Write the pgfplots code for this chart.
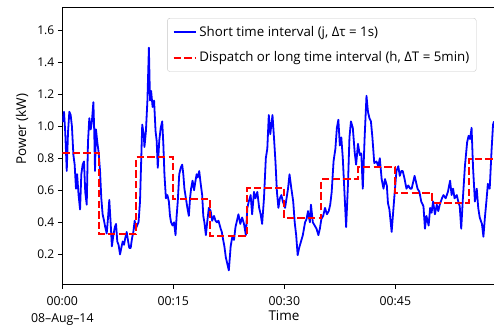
\documentclass[border=0pt]{standalone}
\usepackage{pgfplots}
\pgfplotsset{compat=1.18}
\usepackage{fontspec}
\setmainfont{Open Sans}
\begin{document}
\begin{tikzpicture}
\useasboundingbox (-62.3pt,-42pt) rectangle (431.7pt,284pt);
\begin{axis}[
  scale only axis,
  width=431.7pt, height=277pt,
  xmin=0, xmax=58.33,
  ymin=0.015, ymax=1.744,
  axis x line=box, axis y line=left,
  y axis line style={-},
  axis line style={black, line width=0.8pt},
  xtick pos=left, ytick pos=left,
  tick align=outside,
  major tick length=4.5pt,
  tick style={black, line width=0.8pt},
  xtick={0,15,30,45},
  xticklabels={{00:00\\08–Aug–14},00:15,00:30,00:45},
  xticklabel style={align=center, font=\fontsize{12.3}{17.5}\selectfont, yshift=-4.5pt},
  ytick={0.2,0.4,0.6,0.8,1.0,1.2,1.4,1.6},
  yticklabel style={font=\fontsize{12}{14}\selectfont, /pgf/number format/fixed, /pgf/number format/precision=1, /pgf/number format/fixed zerofill},
  /pgf/number format/assume math mode=true,
  xlabel={Time},
  ylabel={Power (kW)},
  xlabel style={font=\fontsize{13.5}{16}\selectfont, at={(axis description cs:0.5136,-0.1155)}, anchor=center},
  ylabel style={font=\fontsize{13.5}{16}\selectfont, at={(axis description cs:-0.0934,0.56)}, anchor=center},
  legend style={at={(axis description cs:0.243,0.960)}, anchor=north west, draw=black!22, rounded corners=2.5pt, font=\fontsize{13.3}{15}\selectfont, row sep=10pt, inner xsep=5pt, inner ysep=6pt},
  legend cell align=left,
  legend image code/.code={\draw[#1] (0cm,0cm) -- (0.8cm,0cm);},
]
\addplot[blue, line width=1.8pt, line join=round, legend image post style={line width=2.2pt}] coordinates {
(0.00,1.03) (0.05,1.03) (0.23,1.09) (0.40,0.96) (0.60,0.72) (0.77,0.96) (0.95,1.09) (1.13,1.07) (1.30,1.00) (1.50,0.82)
(1.67,0.76) (1.85,0.61) (2.00,0.70) (2.20,0.57) (2.40,0.48) (2.57,0.70) (2.75,0.76) (2.93,0.78) (3.10,0.59) (3.30,0.51)
(3.47,0.90) (3.65,1.05) (3.84,0.98) (4.00,1.03) (4.20,1.15) (4.32,0.96) (4.42,0.72) (4.55,0.98) (4.73,0.90) (4.90,0.84)
(5.10,0.72) (5.27,0.55) (5.45,0.45) (5.64,0.41) (5.80,0.37) (6.00,0.33) (6.18,0.43) (6.35,0.54) (6.54,0.39) (6.70,0.25)
(6.90,0.32) (7.10,0.37) (7.26,0.39) (7.43,0.28) (7.60,0.26) (7.80,0.20) (7.97,0.24) (8.16,0.28) (8.34,0.26) (8.50,0.30)
(8.70,0.34) (8.90,0.28) (9.05,0.24) (9.24,0.24) (9.42,0.30) (9.60,0.34) (9.78,0.41) (9.95,0.36) (10.10,0.38) (10.30,0.40)
(10.50,0.53) (10.65,0.77) (10.80,1.01) (11.00,0.95) (11.10,0.87) (11.30,0.97) (11.50,1.16) (11.70,1.49) (11.85,1.16) (12.00,1.22)
(12.20,1.12) (12.40,1.16) (12.60,0.97) (12.75,0.91) (12.90,0.74) (13.10,0.91) (13.30,0.99) (13.50,1.03) (13.65,0.89) (13.80,0.70)
(14.00,0.55) (14.20,0.57) (14.40,0.53) (14.55,0.44) (14.70,0.40) (14.90,0.38) (15.10,0.40) (15.30,0.32) (15.45,0.44) (15.60,0.53)
(15.80,0.70) (16.00,0.74) (16.20,0.76) (16.35,0.70) (16.50,0.61) (16.70,0.55) (16.90,0.49) (17.10,0.44) (17.26,0.55) (17.40,0.61)
(17.60,0.66) (17.80,0.60) (18.00,0.66) (18.15,0.70) (18.30,0.68) (18.50,0.72) (18.70,0.64) (18.90,0.57) (19.05,0.44) (19.20,0.40)
(19.40,0.32) (19.60,0.41) (19.80,0.49) (20.05,0.47) (20.25,0.41) (20.50,0.44) (20.70,0.41) (20.90,0.40) (21.10,0.41) (21.40,0.36)
(21.55,0.34) (21.70,0.30) (21.90,0.25) (22.10,0.18) (22.30,0.14) (22.50,0.10) (22.75,0.25) (22.97,0.31) (23.20,0.29) (23.40,0.37)
(23.60,0.41) (23.80,0.45) (24.05,0.39) (24.30,0.43) (24.55,0.39) (24.80,0.32) (25.00,0.49) (25.20,0.53) (25.45,0.57) (25.65,0.45)
(25.90,0.59) (26.10,0.55) (26.35,0.59) (26.60,0.49) (26.80,0.45) (27.00,0.39) (27.25,0.55) (27.50,0.80) (27.70,0.86) (27.90,1.07)
(28.10,0.95) (28.40,1.07) (28.60,0.93) (28.80,0.78) (29.00,0.59) (29.20,0.49) (29.40,0.55) (29.60,0.57) (29.80,0.53) (30.10,0.49)
(30.30,0.55) (30.50,0.61) (30.70,0.70) (30.95,0.61) (31.20,0.53) (31.40,0.40) (31.60,0.32) (31.80,0.195) (32.00,0.24) (32.25,0.28)
(32.50,0.32) (32.80,0.40) (33.00,0.42) (33.20,0.47) (33.45,0.40) (33.60,0.51) (33.85,0.40) (34.10,0.38) (34.35,0.36) (34.60,0.32)
(34.80,0.36) (35.00,0.42) (35.25,0.44) (35.50,0.49) (35.75,0.45) (36.00,0.47) (36.20,0.51) (36.40,0.59) (36.65,0.78) (36.90,0.86)
(37.10,0.99) (37.30,1.04) (37.50,0.88) (37.70,0.93) (37.90,0.80) (38.10,0.61) (38.35,0.37) (38.60,0.64) (38.80,0.93) (39.00,1.03)
(39.25,0.99) (39.50,0.84) (39.70,0.76) (39.95,0.89) (40.20,0.82) (40.40,0.83) (40.60,0.61) (40.85,0.93) (41.10,1.19) (41.30,1.09)
(41.50,1.05) (41.70,1.03) (41.90,0.93) (42.15,0.77) (42.45,0.78) (42.70,0.75) (42.90,0.80) (43.15,0.67) (43.40,0.61) (43.60,0.67)
(43.85,0.63) (44.00,0.52) (44.20,0.48) (44.50,0.34) (44.70,0.46) (44.90,0.58) (45.15,0.72) (45.40,0.75) (45.60,0.69) (45.80,0.72)
(46.00,0.72) (46.25,0.67) (46.50,0.61) (46.75,0.63) (47.00,0.61) (47.20,0.61) (47.40,0.65) (47.60,0.69) (47.80,0.65) (48.00,0.61)
(48.25,0.59) (48.50,0.53) (48.80,0.50) (49.00,0.36) (49.20,0.44) (49.50,0.38) (49.70,0.49) (49.90,0.46) (50.10,0.53) (50.35,0.45)
(50.60,0.51) (50.80,0.47) (51.00,0.51) (51.30,0.55) (51.50,0.57) (51.80,0.55) (52.10,0.59) (52.40,0.66) (52.60,0.57) (52.80,0.61)
(53.00,0.55) (53.30,0.57) (53.50,0.53) (53.70,0.50) (53.90,0.36) (54.10,0.53) (54.40,0.75) (54.70,0.90) (54.90,0.94) (55.10,0.92)
(55.30,0.99) (55.50,0.74) (55.75,0.53) (56.00,0.61) (56.20,0.49) (56.40,0.43) (56.70,0.39) (56.90,0.31) (57.10,0.43) (57.30,0.53)
(57.50,0.64) (57.75,0.61) (58.00,0.85) (58.20,1.01) (58.33,1.03)
};
\addlegendentry{Short time interval (j, Δτ = 1s)}
\addplot[red, line width=2pt, dash pattern=on 7.4pt off 3.2pt, const plot] coordinates {
(0,0.834) (5,0.325) (10,0.807) (15,0.545) (20,0.316) (25,0.616) (30,0.425) (35,0.668) (40,0.743) (45,0.583) (50,0.522) (55,0.795) (58.33,0.795)
};
\addlegendentry{Dispatch or long time interval (h, ΔT = 5min)}
\end{axis}
\end{tikzpicture}
\end{document}
